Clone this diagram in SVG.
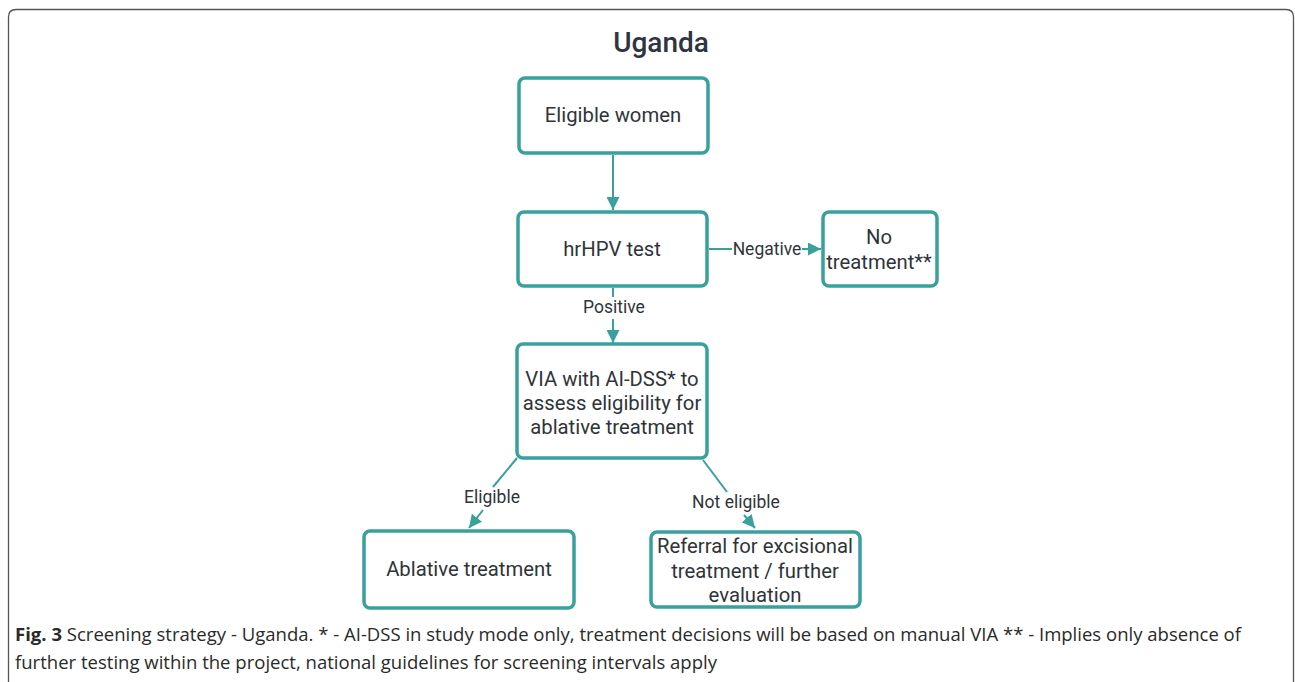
<svg xmlns="http://www.w3.org/2000/svg" width="1295" height="682" viewBox="0 0 1295 682">
<defs>
<style>
.box{fill:#fff;stroke:#38a19d;stroke-width:3.5}
.lbl{font-family:Roboto,"Liberation Sans",sans-serif;font-size:20.3px;fill:#30343a;text-anchor:middle}
.elbl{font-family:Roboto,"Liberation Sans",sans-serif;font-size:17.5px;fill:#30343a;text-anchor:middle}
.conn{stroke:#38a19d;stroke-width:2;fill:none}
.cap{font-family:"Open Sans","Liberation Sans",sans-serif;font-size:17.5px;fill:#2a2a2a}
</style>
<marker id="ah" viewBox="0 0 10 10" refX="10" refY="5" markerWidth="6.5" markerHeight="6.5" markerUnits="strokeWidth" orient="auto">
<path d="M0,0 L10,5 L0,10 z" fill="#38a19d"/>
</marker>
</defs>
<rect width="1295" height="682" fill="#fff"/>
<path d="M8.5,700 V17 Q8.5,9.5 16,9.5 H1286 Q1293.5,9.5 1293.5,17 V700" fill="none" stroke="#555" stroke-width="1.3"/>
<text x="661" y="52" font-family="Roboto,'Liberation Sans',sans-serif" font-size="28" font-weight="500" fill="#2e3440" text-anchor="middle">Uganda</text>
<g id="connectors">
<line class="conn" x1="613" y1="155" x2="613" y2="210" marker-end="url(#ah)"/>
<line class="conn" x1="709" y1="249" x2="732" y2="249"/>
<line class="conn" x1="802" y1="249" x2="821" y2="249" marker-end="url(#ah)"/>
<text class="elbl" x="767" y="255">Negative</text>
<line class="conn" x1="613" y1="288" x2="613" y2="297"/>
<line class="conn" x1="613" y1="319" x2="613" y2="343" marker-end="url(#ah)"/>
<text class="elbl" x="614" y="313">Positive</text>
<line class="conn" x1="517" y1="458" x2="493" y2="487"/>
<line class="conn" x1="483" y1="510" x2="469" y2="528" marker-end="url(#ah)"/>
<text class="elbl" x="492" y="503">Eligible</text>
<line class="conn" x1="703" y1="460" x2="727" y2="492"/>
<line class="conn" x1="744" y1="515" x2="755" y2="528" marker-end="url(#ah)"/>
<text class="elbl" x="736" y="508">Not eligible</text>
</g>
<g id="eligible-women">
<rect class="box" x="519" y="78" width="189" height="75" rx="6"/>
<text class="lbl" x="613" y="122">Eligible women</text>
</g>
<g id="hrhpv-test">
<rect class="box" x="518" y="212" width="189" height="74" rx="6"/>
<text class="lbl" x="612" y="256">hrHPV test</text>
</g>
<g id="no-treatment">
<rect class="box" x="823" y="212" width="114" height="74" rx="6"/>
<text class="lbl" x="879" y="244">No</text>
<text class="lbl" x="879" y="269">treatment**</text>
</g>
<g id="via">
<rect class="box" x="517" y="344" width="190" height="114" rx="6"/>
<text class="lbl" x="612" y="386">VIA with AI-DSS* to</text>
<text class="lbl" x="612" y="410">assess eligibility for</text>
<text class="lbl" x="612" y="434">ablative treatment</text>
</g>
<g id="ablative">
<rect class="box" x="364" y="531" width="210" height="77" rx="6"/>
<text class="lbl" x="469" y="576">Ablative treatment</text>
</g>
<g id="referral">
<rect class="box" x="651" y="532" width="209" height="75" rx="6"/>
<text class="lbl" x="755" y="553">Referral for excisional</text>
<text class="lbl" x="755" y="578">treatment / further</text>
<text class="lbl" x="755" y="602">evaluation</text>
</g>
<text class="cap" x="15" y="641" textLength="1226" lengthAdjust="spacingAndGlyphs"><tspan font-weight="bold">Fig. 3</tspan> Screening strategy - Uganda. * - AI-DSS in study mode only, treatment decisions will be based on manual VIA ** - Implies only absence of</text>
<text class="cap" x="15" y="669" textLength="702" lengthAdjust="spacingAndGlyphs">further testing within the project, national guidelines for screening intervals apply</text>
</svg>
